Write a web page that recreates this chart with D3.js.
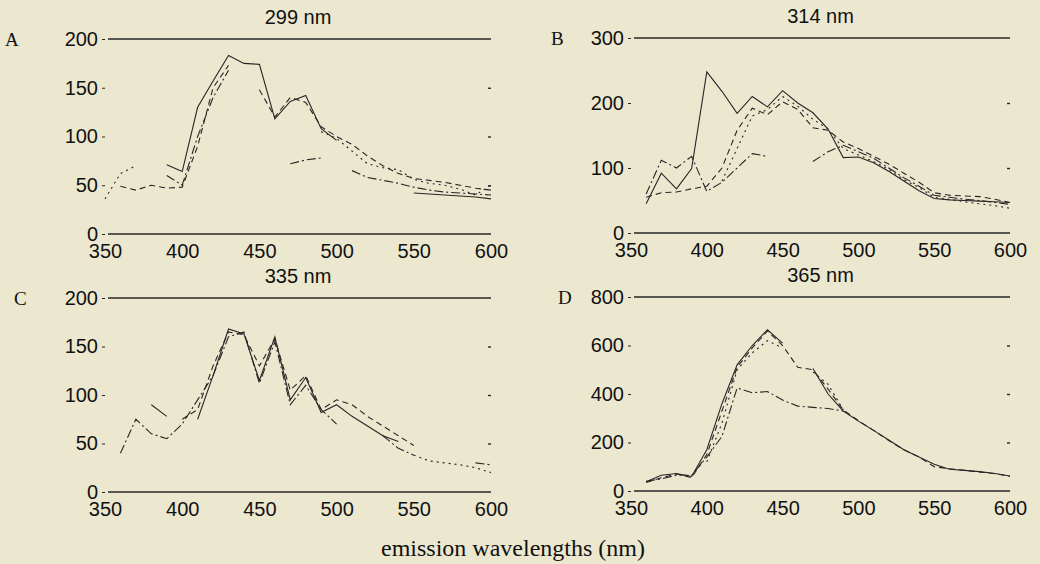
<!DOCTYPE html>
<html>
<head>
<meta charset="utf-8">
<script src="https://cdn.jsdelivr.net/npm/d3@7"></script>
<style>
  body { margin: 0; background: #ece8d0; }
  svg { display: block; }
</style>
</head>
<body>
<script>
// emission wavelengths (nm), shared by every panel
const wavelengths = [350, 360, 370, 380, 390, 400, 410, 420, 430, 440, 450, 460, 470,
                     480, 490, 500, 510, 520, 530, 540, 550, 560, 570, 580, 590, 600];
const xTicks = [350, 400, 450, 500, 550, 600];

// A - 299 nm
const solidA   = [null, null, null, null, 71, 64, 130, 157, 183, 175, 174, 118, 136, 142, 108, 96, null, null, null, null, 42, 41, 40, 39, 38, 36];
const dashedA  = [null, 49, 45, 50, 47, 48, 90, 150, 173, null, 148, 120, 140, 135, 110, 100, 92, 80, 70, 62, 57, 55, 53, 50, 47, 45];
const dashdotA = [null, null, null, null, 60, 50, 100, 140, 168, null, null, null, 72, 76, 78, null, 65, 58, 55, 52, 48, 45, 43, 42, 41, 40];
const dottedA  = [36, 62, 70, null, null, null, null, null, null, null, null, null, null, null, 105, 98, 85, 72, 68, 66, 56, 52, 50, 46, 40, 50];
const ticksA = [0, 50, 100, 150, 200];

// B - 314 nm
const solidB   = [null, 45, 92, 68, 99, 248, 218, 184, 210, 194, 219, 200, 185, 160, 116, 117, 108, 95, 80, 65, 53, 51, 50, 49, 48, 47];
const dashedB  = [null, 55, 62, 63, 68, 72, 100, 158, 192, 182, 202, 190, 162, 158, 140, 130, 118, 106, 92, 78, 62, 58, 57, 56, 52, 47];
const dashdotB = [null, 60, 112, 100, 118, 64, 78, 100, 122, 118, null, null, 110, 125, 135, 125, 115, 100, 85, 72, 58, 55, 52, 50, 47, 44];
const dottedB  = [null, null, null, null, null, null, 80, 130, 180, 190, 210, 195, 175, 160, 130, 120, 110, 98, 82, 70, 55, 52, 48, 45, 42, 38];
const ticksB = [0, 100, 200, 300];

// C - 335 nm
const solidC   = [null, null, null, 90, 78, null, 75, 120, 168, 163, 115, 160, 95, 118, 82, 90, 78, 68, 58, 52, null, null, null, null, null, null];
const dashedC  = [null, null, null, null, null, 75, 85, 130, 165, 162, 130, 158, 105, 120, 85, 95, 90, 78, 68, 58, 48, null, null, null, null, null];
const dashdotC = [null, 40, 75, 60, 55, 70, 95, 120, 160, 165, 112, 155, 90, 110, 85, 70, null, null, 58, 45, 38, null, null, null, 30, 28];
const dottedC  = [null, null, null, null, null, null, null, null, null, null, null, null, null, null, null, null, null, null, null, null, 38, 32, 30, 28, 25, 20];
const ticksC = [0, 50, 100, 150, 200];

// D - 365 nm
const solidD   = [null, 38, 65, 72, 60, 170, 360, 520, 600, 665, 610, null, 505, 400, 330, 288, 250, 210, 170, 140, 110, 90, 85, 80, 72, 62];
const dashedD  = [null, 35, 55, 70, 55, 150, 330, 510, 590, 660, 600, 510, 500, 420, 335, 290, 250, 208, 170, 140, 100, 92, 85, 78, 72, 60];
const dashdotD = [null, 40, 50, 65, 65, 140, 225, 425, 405, 410, 375, 350, 345, 340, 330, null, null, null, null, null, null, null, null, null, null, null];
const dottedD  = [null, null, null, null, null, 120, 280, 500, 570, 620, 590, null, 490, 440, 335, null, null, null, null, null, null, null, null, null, null, null];
const ticksD = [0, 200, 400, 600, 800];

const titles = ["299 nm", "314 nm", "335 nm", "365 nm"];
const letters = ["A", "B", "C", "D"];
const xLabel = "emission wavelengths (nm)";

const ink = "#262626";
const dashes = [null, "6,4", "9,3,2,3", "2,4"];

const panels = [
  { title: titles[0], letter: letters[0], series: [solidA, dashedA, dashdotA, dottedA], ticks: ticksA,
    x0: 105, x1: 491, top: 39, bottom: 234, lx: 5 },
  { title: titles[1], letter: letters[1], series: [solidB, dashedB, dashdotB, dottedB], ticks: ticksB,
    x0: 631, x1: 1010, top: 38, bottom: 233, lx: 551 },
  { title: titles[2], letter: letters[2], series: [solidC, dashedC, dashdotC, dottedC], ticks: ticksC,
    x0: 105, x1: 491, top: 298, bottom: 492, lx: 14 },
  { title: titles[3], letter: letters[3], series: [solidD, dashedD, dashdotD, dottedD], ticks: ticksD,
    x0: 631, x1: 1010, top: 297, bottom: 491, lx: 558 }
];

const svg = d3.select("body").append("svg")
  .attr("width", 1040).attr("height", 564);

svg.append("rect").attr("width", 1040).attr("height", 564).attr("fill", "#ece8d0");

panels.forEach(p => {
  const yMax = d3.max(p.ticks);
  const x = d3.scaleLinear().domain([350, 600]).range([p.x0, p.x1]);
  const y = d3.scaleLinear().domain([0, yMax]).range([p.bottom, p.top]);
  const g = svg.append("g");

  // top and bottom frame lines
  [0, yMax].forEach(v => {
    g.append("line")
      .attr("x1", x(350) + 3).attr("x2", x(600))
      .attr("y1", y(v)).attr("y2", y(v))
      .attr("stroke", ink).attr("stroke-width", 1.6);
  });

  // y labels with small ticks
  const ya = g.append("g")
    .attr("transform", `translate(${x(350)},0)`)
    .call(d3.axisLeft(y).tickValues(p.ticks).tickSize(3).tickPadding(4).tickFormat(d3.format("d")));
  ya.select(".domain").remove();
  ya.selectAll("line").attr("stroke", ink);
  ya.selectAll("text").attr("fill", "#111")
    .style("font-family", "'Liberation Sans', Arial, sans-serif").style("font-size", "20px");

  // small inner ticks on the right edge
  const yr = g.append("g")
    .attr("transform", `translate(${x(600)},0)`)
    .call(d3.axisLeft(y).tickValues(p.ticks.slice(1, -1)).tickSize(3).tickFormat(""));
  yr.select(".domain").remove();
  yr.selectAll("line").attr("stroke", ink).attr("stroke-width", 1.4);

  // x labels
  const xa = g.append("g")
    .attr("transform", `translate(0,${y(0)})`)
    .call(d3.axisBottom(x).tickValues(xTicks).tickSize(0).tickPadding(10));
  xa.select(".domain").remove();
  xa.selectAll("text").attr("fill", "#111")
    .style("font-family", "'Liberation Sans', Arial, sans-serif").style("font-size", "20px");

  // panel title and letter
  g.append("text")
    .attr("x", (p.x0 + p.x1) / 2).attr("y", p.top - 15)
    .attr("text-anchor", "middle").attr("fill", "#111")
    .style("font-family", "'Liberation Sans', Arial, sans-serif").style("font-size", "20px")
    .text(p.title);
  g.append("text")
    .attr("x", p.lx).attr("y", p.top + 7)
    .attr("fill", "#111")
    .style("font-family", "'Liberation Serif', 'Times New Roman', serif").style("font-size", "19px")
    .text(p.letter);

  // spectra
  const line = d3.line()
    .defined(d => d[1] !== null)
    .x(d => x(d[0]))
    .y(d => y(d[1]));

  p.series.forEach((vals, i) => {
    g.append("path")
      .datum(wavelengths.map((w, k) => [w, vals[k]]))
      .attr("d", line)
      .attr("fill", "none")
      .attr("stroke", ink)
      .attr("stroke-width", 1.1)
      .attr("stroke-dasharray", dashes[i]);
  });
});

svg.append("text")
  .attr("x", 513).attr("y", 556)
  .attr("text-anchor", "middle").attr("fill", "#111")
  .style("font-family", "'Liberation Serif', 'Times New Roman', serif").style("font-size", "24px")
  .text(xLabel);
</script>
</body>
</html>
